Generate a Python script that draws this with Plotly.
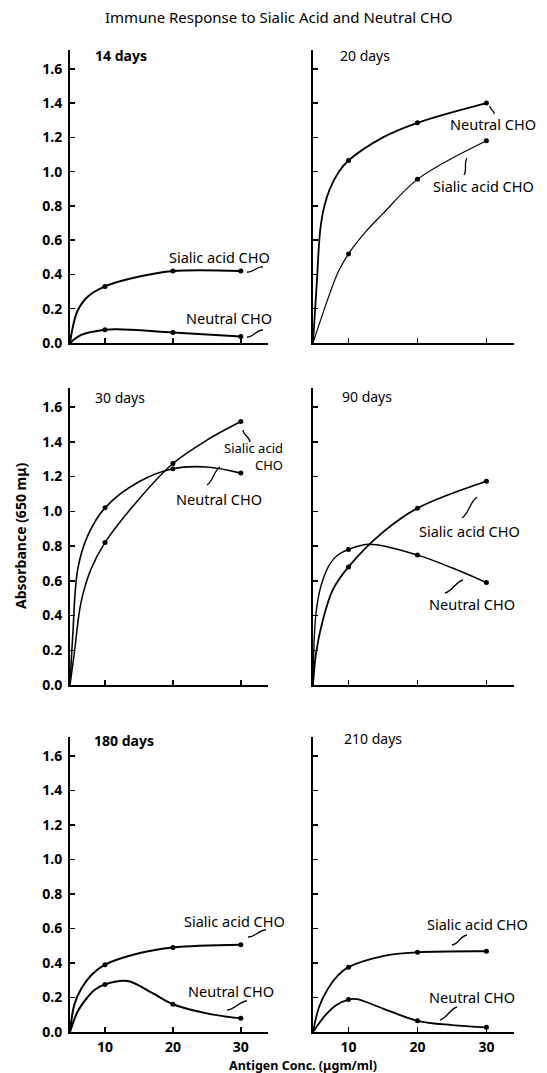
import plotly.graph_objects as go

W, H = 547, 1073

# ---------------- data ----------------
CONC = [10, 20, 30]
Y_TICKS = [0, 0.2, 0.4, 0.6, 0.8, 1.0, 1.2, 1.4, 1.6]
Y_TICK_TEXT = ["0.0", "0.2", "0.4", "0.6", "0.8", "1.0", "1.2", "1.4", "1.6"]
X_TICK_TEXT = ["10", "20", "30"]
PANEL_TITLES = ["14 days", "20 days", "30 days", "90 days", "180 days", "210 days"]

# measured points (markers)
sialic_14 = [0.33, 0.42, 0.42]
neutral_14 = [0.077, 0.062, 0.038]
sialic_20 = [0.52, 0.955, 1.18]
neutral_20 = [1.065, 1.285, 1.40]
sialic_30 = [0.82, 1.275, 1.517]
neutral_30 = [1.02, 1.245, 1.22]
sialic_90 = [0.68, 1.018, 1.173]
neutral_90 = [0.78, 0.748, 0.59]
sialic_180 = [0.39, 0.49, 0.506]
neutral_180 = [0.276, 0.161, 0.079]
sialic_210 = [0.376, 0.462, 0.468]
neutral_210 = [0.188, 0.065, 0.027]

# hand-drawn curves, points
sialic_14_cx = [4.85, 5.3, 5.98, 7.45, 10, 13.8, 20, 30]
sialic_14_cy = [0, 0.1, 0.19, 0.27, 0.33, 0.376, 0.42, 0.42]
neutral_14_cx = [4.85, 6.5, 10, 11.8, 20, 30]
neutral_14_cy = [0, 0.047, 0.077, 0.08, 0.062, 0.038]

sialic_20_cx = [4.85, 7.25, 8.5, 10, 12.5, 15, 20, 30]
sialic_20_cy = [0, 0.285, 0.415, 0.52, 0.65, 0.755, 0.955, 1.18]
neutral_20_cx = [4.85, 5.4, 5.9, 6.5, 7.3, 8.6, 10, 15, 20, 30]
neutral_20_cy = [0, 0.35, 0.66, 0.8, 0.9, 1.0, 1.065, 1.2, 1.285, 1.40]

sialic_30_cx = [4.85, 5.49, 6.47, 7.94, 10, 15, 20, 25, 30]
sialic_30_cy = [0, 0.185, 0.475, 0.667, 0.82, 1.07, 1.275, 1.41, 1.517]
neutral_30_cx = [4.85, 5.25, 5.99, 7.46, 10, 15, 20, 25, 30]
neutral_30_cy = [0, 0.28, 0.667, 0.86, 1.02, 1.17, 1.245, 1.255, 1.22]

sialic_90_cx = [4.85, 5.3, 6.3, 7.75, 10, 15, 20, 30]
sialic_90_cy = [0, 0.185, 0.377, 0.55, 0.68, 0.88, 1.018, 1.173]
neutral_90_cx = [4.85, 5.25, 6.0, 7.35, 8.5, 10, 13, 20, 25, 30]
neutral_90_cy = [0, 0.4, 0.57, 0.7, 0.75, 0.78, 0.81, 0.748, 0.675, 0.59]

sialic_180_cx = [4.85, 5.5, 6.5, 8, 10, 15, 20, 30]
sialic_180_cy = [0, 0.16, 0.25, 0.33, 0.39, 0.456, 0.49, 0.506]
neutral_180_cx = [4.85, 6, 7.4, 8.5, 10, 13.3, 17, 20, 25, 30]
neutral_180_cy = [0, 0.12, 0.2, 0.245, 0.276, 0.295, 0.225, 0.161, 0.108, 0.079]

sialic_210_cx = [4.85, 5.74, 7, 8.5, 10, 15, 20, 30]
sialic_210_cy = [0, 0.146, 0.25, 0.33, 0.376, 0.44, 0.462, 0.468]
neutral_210_cx = [4.85, 6.7, 8.2, 10, 11.2, 15, 20, 25, 30]
neutral_210_cy = [0, 0.1, 0.155, 0.188, 0.19, 0.136, 0.065, 0.04, 0.027]

# ---------------- layout helpers (pixel based) ----------------
COL_PX = [(70, 268), (313, 514)]
ROW_PX = [(50, 343), (388, 685), (737, 1032)]
X_RANGE = [4.85, 34]
Y_RANGE = [0, 1.71]
FONT = "Noto Sans"


def px(x):
    return x / W


def py(y):
    return 1 - y / H


series = [
    [(sialic_14_cx, sialic_14_cy, sialic_14, 2.0), (neutral_14_cx, neutral_14_cy, neutral_14, 2.0)],
    [(neutral_20_cx, neutral_20_cy, neutral_20, 1.8), (sialic_20_cx, sialic_20_cy, sialic_20, 1.2)],
    [(sialic_30_cx, sialic_30_cy, sialic_30, 1.5), (neutral_30_cx, neutral_30_cy, neutral_30, 1.6)],
    [(sialic_90_cx, sialic_90_cy, sialic_90, 1.8), (neutral_90_cx, neutral_90_cy, neutral_90, 1.4)],
    [(sialic_180_cx, sialic_180_cy, sialic_180, 2.0), (neutral_180_cx, neutral_180_cy, neutral_180, 2.0)],
    [(sialic_210_cx, sialic_210_cy, sialic_210, 1.8), (neutral_210_cx, neutral_210_cy, neutral_210, 1.8)],
]

fig = go.Figure()
layout = dict(
    template="none",
    width=W, height=H, autosize=False,
    margin=dict(l=0, r=0, t=0, b=0, pad=0),
    paper_bgcolor="white", plot_bgcolor="white",
    showlegend=False,
    font=dict(family=FONT, color="black"),
)

for i in range(6):
    r, c = divmod(i, 2)
    k = "" if i == 0 else str(i + 1)
    xa, ya = "x" + k, "y" + k
    for cx, cy, marks, lw in series[i]:
        fig.add_trace(go.Scatter(x=cx, y=cy, mode="lines", xaxis=xa, yaxis=ya,
                                 line=dict(shape="spline", smoothing=1.0, color="black", width=lw),
                                 hoverinfo="skip"))
        fig.add_trace(go.Scatter(x=CONC, y=marks, mode="markers", xaxis=xa, yaxis=ya,
                                 marker=dict(size=5, color="black"), cliponaxis=False,
                                 hoverinfo="skip"))
    x0, x1 = COL_PX[c]
    y0, y1 = ROW_PX[r]
    layout["xaxis" + k] = dict(
        domain=[px(x0), px(x1)], range=X_RANGE, anchor=ya, automargin=False,
        showline=True, linecolor="black", linewidth=2,
        ticks="inside", ticklen=5, tickwidth=1.5, tickcolor="black",
        tickvals=CONC, ticktext=X_TICK_TEXT,
        showticklabels=(r == 2), ticklabelstandoff=1,
        tickfont=dict(size=14, family=FONT, weight="bold"),
        showgrid=False, zeroline=False, fixedrange=True,
    )
    layout["yaxis" + k] = dict(
        domain=[py(y1), py(y0)], range=Y_RANGE, anchor=xa, automargin=False,
        showline=True, linecolor="black", linewidth=2,
        ticks="inside", ticklen=5, tickwidth=1.5, tickcolor="black",
        tickvals=Y_TICKS, ticktext=Y_TICK_TEXT,
        showticklabels=(c == 0), ticklabelstandoff=3,
        tickfont=dict(size=14, family=FONT, weight="bold"),
        showgrid=False, zeroline=False, fixedrange=True,
    )

fig.update_layout(**layout)

annotations = []


def note(x, y, text, size=14.5, bold=False, xanchor="center", angle=0, align="center"):
    annotations.append(dict(
        x=px(x), y=py(y), xref="paper", yref="paper", text=text, showarrow=False,
        xanchor=xanchor, yanchor="middle", textangle=angle, align=align,
        font=dict(size=size, family=FONT, color="black", weight="bold" if bold else "normal"),
    ))


note(278, 17, "Immune Response to Sialic Acid and Neutral CHO", size=15)
note(20, 536, "Absorbance (650 mμ)", size=14, bold=True, angle=-90)
note(303, 1065, "Antigen Conc. (μgm/ml)", size=12.5, bold=True)

# panel labels
note(93, 55, PANEL_TITLES[0], size=14, bold=True, xanchor="left")
note(338, 55, PANEL_TITLES[1], size=14, xanchor="left")
note(93, 397, PANEL_TITLES[2], size=14, xanchor="left")
note(340, 396, PANEL_TITLES[3], size=14, xanchor="left")
note(92, 740, PANEL_TITLES[4], size=14, bold=True, xanchor="left")
note(342, 738, PANEL_TITLES[5], size=14, xanchor="left")

# series labels
note(219, 257, "Sialic acid CHO")
note(229, 318, "Neutral CHO")
note(493, 124, "Neutral CHO")
note(483, 186, "Sialic acid CHO")
note(285, 456, "Sialic acid<br>CHO", xanchor="right", align="right", size=13)
note(219, 499, "Neutral CHO")
note(469, 531, "Sialic acid CHO")
note(472, 604, "Neutral CHO")
note(234, 921, "Sialic acid CHO")
note(231, 991, "Neutral CHO")
note(477, 924, "Sialic acid CHO")
note(472, 997, "Neutral CHO")

fig.update_layout(annotations=annotations)

# squiggly leader marks
shapes = []


def squiggle(x0, y0, x1, y1, amp=3.0):
    dx, dy = x1 - x0, y1 - y0
    L = (dx * dx + dy * dy) ** 0.5
    nx, ny = -dy / L * amp, dx / L * amp
    c1 = (x0 + dx / 3 + nx, y0 + dy / 3 + ny)
    c2 = (x0 + 2 * dx / 3 - nx, y0 + 2 * dy / 3 - ny)
    pts = [(x0, y0), c1, c2, (x1, y1)]
    p = [f"{px(a):.5f},{py(b):.5f}" for a, b in pts]
    shapes.append(dict(type="path", xref="paper", yref="paper",
                       path=f"M {p[0]} C {p[1]} {p[2]} {p[3]}",
                       line=dict(color="black", width=1.3)))


squiggle(247, 272, 263, 267)
squiggle(247, 337, 263, 330)
squiggle(490, 106, 494, 114, 2.5)
squiggle(467, 158, 464, 175, 2.5)
squiggle(243, 430, 250, 442, 2.5)
squiggle(207, 485, 220, 467)
squiggle(462, 518, 477, 497)
squiggle(445, 593, 463, 580)
squiggle(248, 937, 266, 930)
squiggle(227, 1010, 247, 1001)
squiggle(452, 945, 467, 935)
squiggle(440, 1020, 457, 1007)

fig.update_layout(shapes=shapes)

PAGE_FIX = (
    "var h=document.documentElement, b=document.body;"
    "h.style.margin='0'; h.style.padding='0'; h.style.overflow='hidden';"
    "h.style.height='1073px'; b.style.margin='0'; b.style.padding='0';"
    "b.style.overflow='hidden'; b.style.height='1073px';"
)

fig.write_html("out.html", config={"displayModeBar": False, "staticPlot": True},
               post_script=PAGE_FIX)
